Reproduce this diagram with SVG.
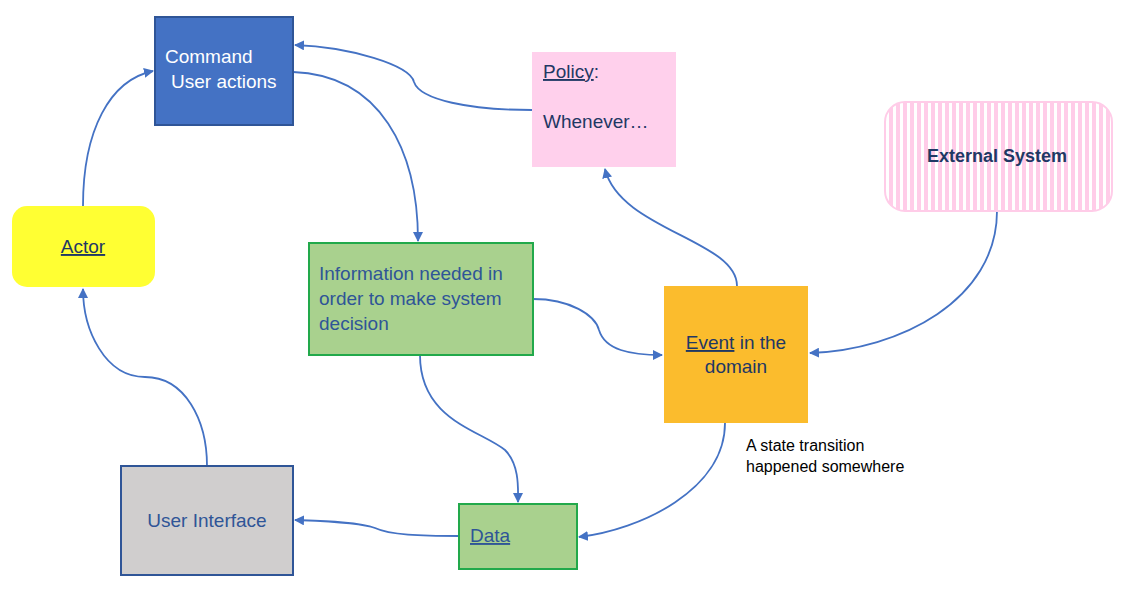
<svg xmlns="http://www.w3.org/2000/svg" width="1142" height="608" viewBox="0 0 1142 608">
<style>
text{font-family:"Liberation Sans",Arial,sans-serif;font-size:19px}
.navy{fill:#1F3864}
.blue{fill:#2F5597}
.con{fill:none;stroke:#4472C4;stroke-width:1.8;marker-end:url(#arr)}
</style>
<defs>
<marker id="arr" viewBox="0 0 10 10" refX="9" refY="5" markerWidth="10" markerHeight="10" markerUnits="userSpaceOnUse" orient="auto">
<path d="M0,0 L10,5 L0,10 z" fill="#4472C4"/>
</marker>
<pattern id="stripes" width="7" height="10" patternUnits="userSpaceOnUse">
<rect width="7" height="10" fill="#ffffff"/>
<rect width="4" height="10" fill="#FFCCE8"/>
</pattern>
</defs>
<rect width="1142" height="608" fill="#ffffff"/>
<g id="connectors">
<path class="con" d="M83,206 C83,130 110,80 153,71"/>
<path class="con" d="M293,72 C380,75 418,150 418,241"/>
<path class="con" d="M532,110 C470,110 420,100 414,82 C410,65 350,47 295,45"/>
<path class="con" d="M737,286 C737,240 620,230 605,169"/>
<path class="con" d="M997,211 C997,300 900,350 810,353"/>
<path class="con" d="M533,299 C570,299 595,315 599,330 C605,350 630,355 662,355"/>
<path class="con" d="M420,355 C420,420 480,430 505,450 C520,465 518,490 518,502"/>
<path class="con" d="M725,423 C725,490 640,530 579,537"/>
<path class="con" d="M459,536 C420,536 390,535 375,528 C360,522 320,521 295,520"/>
<path class="con" d="M207,466 C207,420 185,377 145,377 C105,377 83,330 83,289"/>
</g>
<g id="command">
<rect x="155" y="17" width="138" height="108" fill="#4472C4" stroke="#2F5597" stroke-width="2"/>
<text x="165" y="63" fill="#ffffff">Command</text>
<text x="171" y="88" fill="#ffffff">User actions</text>
</g>
<g id="policy">
<rect x="532" y="52" width="144" height="115" fill="#FFD0EC"/>
<text x="543" y="78" class="navy"><tspan text-decoration="underline">Policy</tspan>:</text>
<text x="543" y="128" class="navy">Whenever…</text>
</g>
<g id="external-system">
<rect x="885" y="102" width="227" height="109" rx="20" fill="url(#stripes)" stroke="#FFCCE8" stroke-width="2"/>
<text x="997" y="162" text-anchor="middle" font-weight="bold" class="navy" style="font-size:18px">External System</text>
</g>
<g id="information">
<rect x="309" y="243" width="224" height="112" fill="#A9D18E" stroke="#22A94B" stroke-width="2"/>
<text x="319" y="280" class="blue">Information needed in</text>
<text x="319" y="305" class="blue">order to make system</text>
<text x="319" y="330" class="blue">decision</text>
</g>
<g id="event">
<rect x="664" y="286" width="144" height="137" fill="#FBBC2D"/>
<text x="736" y="349" text-anchor="middle" class="navy"><tspan text-decoration="underline">Event</tspan> in the</text>
<text x="736" y="373" text-anchor="middle" class="navy">domain</text>
</g>
<g id="annotation">
<text x="746" y="451" style="font-size:16px" fill="#000000">A state transition</text>
<text x="746" y="472" style="font-size:16px" fill="#000000">happened somewhere</text>
</g>
<g id="actor">
<rect x="12" y="206" width="143" height="81" rx="15" fill="#FFFF33"/>
<text x="83" y="253" text-anchor="middle" class="navy" text-decoration="underline">Actor</text>
</g>
<g id="user-interface">
<rect x="121" y="466" width="172" height="109" fill="#D0CECE" stroke="#2F5597" stroke-width="2"/>
<text x="207" y="527" text-anchor="middle" class="blue">User Interface</text>
</g>
<g id="data">
<rect x="459" y="504" width="118" height="65" fill="#A9D18E" stroke="#22A94B" stroke-width="2"/>
<text x="470" y="542" class="blue" text-decoration="underline">Data</text>
</g>
</svg>
